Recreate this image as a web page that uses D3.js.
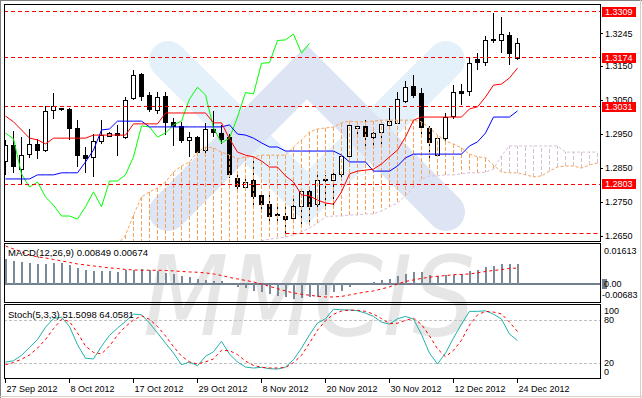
<!DOCTYPE html>
<html>
<head>
<meta charset="utf-8">
<script src="https://cdn.jsdelivr.net/npm/d3@7"></script>
<style>
body { margin: 0; background: #fff; }
svg { display: block; font-family: "Liberation Sans", Arial, sans-serif; font-size: 9px; }
</style>
</head>
<body>
<svg width="642" height="398"></svg>
<script>

// ---- data ----

var dateLabels = ['27 Sep 2012', '8 Oct 2012', '17 Oct 2012', '29 Oct 2012', '8 Nov 2012',
	'20 Nov 2012', '30 Nov 2012', '12 Dec 2012', '24 Dec 2012'];
var dateIndex = [0, 8, 16, 24, 32, 40, 48, 56, 64];

var open = [1.2868, 1.2915, 1.2847, 1.2888, 1.2918, 1.2900, 1.3018, 1.3024, 1.3021, 1.2965,
	1.2886, 1.2880, 1.2928, 1.2944, 1.2952, 1.2941, 1.3053, 1.3124, 1.3062, 1.3019,
	1.3059, 1.2983, 1.2971, 1.2933, 1.2941, 1.2900, 1.2962, 1.2953, 1.2941, 1.2818,
	1.2794, 1.2812, 1.2768, 1.2744, 1.2712, 1.2709, 1.2700, 1.2736, 1.2780, 1.2741,
	1.2815, 1.2813, 1.2830, 1.2883, 1.2965, 1.2971, 1.2941, 1.2953, 1.2977, 1.2983,
	1.3047, 1.3091, 1.3068, 1.2965, 1.2888, 1.2937, 1.3001, 1.3074, 1.3075, 1.3168,
	1.3160, 1.3225, 1.3225, 1.3241, 1.3173];
var high = [1.2933, 1.2959, 1.2941, 1.2965, 1.2936, 1.3033, 1.3071, 1.3027, 1.3027, 1.2991,
	1.2912, 1.2950, 1.2991, 1.2956, 1.2977, 1.3059, 1.3138, 1.3130, 1.3074, 1.3074,
	1.3074, 1.2997, 1.2986, 1.2957, 1.2944, 1.2983, 1.3018, 1.2977, 1.2950, 1.2830,
	1.2824, 1.2874, 1.2780, 1.2771, 1.2738, 1.2736, 1.2771, 1.2791, 1.2791, 1.2830,
	1.2830, 1.2844, 1.2894, 1.2988, 1.2983, 1.2991, 1.2956, 1.2991, 1.3027, 1.3074,
	1.3106, 1.3124, 1.3086, 1.2974, 1.2944, 1.3012, 1.3094, 1.3097, 1.3174, 1.3188,
	1.3238, 1.3307, 1.3293, 1.3250, 1.3233];
var low = [1.2830, 1.2836, 1.2800, 1.2880, 1.2877, 1.2897, 1.2994, 1.3018, 1.2933, 1.2853,
	1.2836, 1.2824, 1.2921, 1.2941, 1.2886, 1.2936, 1.3050, 1.3047, 1.3015, 1.3009,
	1.2947, 1.2915, 1.2924, 1.2883, 1.2888, 1.2888, 1.2941, 1.2921, 1.2821, 1.2786,
	1.2791, 1.2736, 1.2718, 1.2691, 1.2691, 1.2659, 1.2688, 1.2686, 1.2686, 1.2727,
	1.2736, 1.2736, 1.2824, 1.2880, 1.2938, 1.2912, 1.2912, 1.2912, 1.2974, 1.2980,
	1.3041, 1.3056, 1.2950, 1.2874, 1.2883, 1.2924, 1.2994, 1.3036, 1.3062, 1.3138,
	1.3150, 1.3219, 1.3188, 1.3153, 1.3168];
var close = [1.2915, 1.2853, 1.2888, 1.2918, 1.2900, 1.3015, 1.3030, 1.3021, 1.2965, 1.2886,
	1.2878, 1.2927, 1.2947, 1.2952, 1.2945, 1.3050, 1.3121, 1.3059, 1.3021, 1.3058,
	1.2983, 1.2971, 1.2930, 1.2941, 1.2897, 1.2962, 1.2953, 1.2936, 1.2833, 1.2794,
	1.2809, 1.2765, 1.2741, 1.2709, 1.2709, 1.2700, 1.2736, 1.2780, 1.2736, 1.2812,
	1.2812, 1.2830, 1.2883, 1.2974, 1.2971, 1.2941, 1.2953, 1.2977, 1.2988, 1.3053,
	1.3088, 1.3065, 1.2968, 1.2924, 1.2938, 1.3000, 1.3072, 1.3068, 1.3158, 1.3160,
	1.3225, 1.3227, 1.3244, 1.3188, 1.3217];

// Ichimoku
var tenkan = [1.3003, 1.2986, 1.2962, 1.2938, 1.2933, 1.2921, 1.2938, 1.2938, 1.2938, 1.2938,
	1.2938, 1.2947, 1.2947, 1.2947, 1.2947, 1.2947, 1.2980, 1.2980, 1.2980, 1.2980,
	1.3012, 1.3012, 1.3012, 1.3012, 1.3012, 1.3012, 1.2983, 1.2983, 1.2936, 1.2897,
	1.2888, 1.2883, 1.2871, 1.2853, 1.2853, 1.2827, 1.2809, 1.2771, 1.2768, 1.2756,
	1.2747, 1.2744, 1.2780, 1.2833, 1.2841, 1.2844, 1.2847, 1.2862, 1.2883, 1.2903,
	1.2941, 1.2991, 1.3000, 1.3000, 1.3000, 1.3000, 1.3000, 1.3000, 1.3024, 1.3030,
	1.3059, 1.3094, 1.3097, 1.3115, 1.3144];
var kijun = [1.2818, 1.2818, 1.2818, 1.2818, 1.2830, 1.2830, 1.2830, 1.2836, 1.2836, 1.2836,
	1.2868, 1.2903, 1.2962, 1.2965, 1.2988, 1.2988, 1.2988, 1.2988, 1.2971, 1.2971,
	1.2971, 1.2971, 1.2971, 1.2971, 1.2971, 1.2971, 1.2971, 1.2971, 1.2977, 1.2950,
	1.2947, 1.2938, 1.2924, 1.2912, 1.2912, 1.2900, 1.2900, 1.2900, 1.2900, 1.2900,
	1.2900, 1.2900, 1.2888, 1.2868, 1.2868, 1.2868, 1.2841, 1.2841, 1.2841, 1.2856,
	1.2880, 1.2891, 1.2891, 1.2891, 1.2891, 1.2891, 1.2891, 1.2891, 1.2915, 1.2927,
	1.2953, 1.3000, 1.3000, 1.3000, 1.3018];
var chikou = [1.2953, 1.2936, 1.2833, 1.2794, 1.2809, 1.2765, 1.2741, 1.2709, 1.2709, 1.2700,
	1.2736, 1.2780, 1.2736, 1.2812, 1.2812, 1.2830, 1.2883, 1.2974, 1.2971, 1.2941,
	1.2953, 1.2977, 1.2988, 1.3053, 1.3088, 1.3065, 1.2968, 1.2924, 1.2938, 1.3000,
	1.3072, 1.3068, 1.3158, 1.3160, 1.3225, 1.3227, 1.3244, 1.3188, 1.3217];
var cloudStart = 14;
var spanA = [1.2624, 1.2653, 1.2712, 1.2765, 1.2780, 1.2791, 1.2809, 1.2838, 1.2856, 1.2868,
	1.2897, 1.2912, 1.2909, 1.2897, 1.2888, 1.2877, 1.2883, 1.2883, 1.2888, 1.2888,
	1.2888, 1.2888, 1.2912, 1.2933, 1.2956, 1.2965, 1.2968, 1.2971, 1.2983, 1.2988,
	1.2986, 1.2986, 1.2988, 1.2991, 1.2991, 1.2991, 1.2991, 1.2991, 1.2986, 1.2968,
	1.2947, 1.2930, 1.2921, 1.2909, 1.2891, 1.2883, 1.2880, 1.2859, 1.2838, 1.2836,
	1.2836, 1.2830, 1.2824, 1.2827, 1.2841, 1.2853, 1.2856, 1.2856, 1.2850, 1.2859, 1.2865];
var spanB = [1.2600, 1.2600, 1.2600, 1.2600, 1.2600, 1.2600, 1.2600, 1.2600, 1.2600, 1.2600,
	1.2600, 1.2600, 1.2600, 1.2600, 1.2600, 1.2600, 1.2600, 1.2600, 1.2636, 1.2641,
	1.2644, 1.2647, 1.2653, 1.2662, 1.2674, 1.2688, 1.2706, 1.2709, 1.2709, 1.2712,
	1.2712, 1.2715, 1.2715, 1.2724, 1.2736, 1.2747, 1.2768, 1.2794, 1.2818, 1.2827,
	1.2827, 1.2830, 1.2830, 1.2833, 1.2836, 1.2836, 1.2838, 1.2847, 1.2886, 1.2915,
	1.2915, 1.2915, 1.2915, 1.2915, 1.2915, 1.2915, 1.2897, 1.2897, 1.2897, 1.2897, 1.2897];

var levels = [1.3309, 1.3174, 1.3031, 1.2803];
var supportStart = 35, supportPrice = 1.2657;
var priceTicks = [1.3245, 1.3150, 1.3050, 1.2950, 1.2850, 1.2750, 1.2650];

// MACD(12,26,9)
var macdHist = [0.01075, 0.00990, 0.00922, 0.00880, 0.00850, 0.00850, 0.00892, 0.00880, 0.00820, 0.00680,
	0.00595, 0.00540, 0.00565, 0.00540, 0.00523, 0.00595, 0.00582, 0.00638, 0.00608, 0.00540,
	0.00480, 0.00425, 0.00353, 0.00285, 0.00225, 0.00170, 0.00140, 0.00140, 0.00043, -0.00140,
	-0.00170, -0.00285, -0.00353, -0.00425, -0.00497, -0.00540, -0.00625, -0.00595, -0.00565, -0.00540,
	-0.00480, -0.00340, -0.00285, -0.00115, -0.00043, 0.00043, 0.00085, 0.00170, 0.00213, 0.00353,
	0.00425, 0.00510, 0.00489, 0.00370, 0.00327, 0.00370, 0.00395, 0.00425, 0.00540, 0.00582,
	0.00710, 0.00765, 0.00850, 0.00850, 0.00849];
var macdSignal = [0.01613, 0.01488, 0.01360, 0.01233, 0.01148, 0.01105, 0.01041, 0.00978, 0.00914, 0.00850,
	0.00808, 0.00765, 0.00723, 0.00680, 0.00659, 0.00616, 0.00595, 0.00582, 0.00582, 0.00582,
	0.00574, 0.00553, 0.00531, 0.00510, 0.00497, 0.00468, 0.00425, 0.00361, 0.00276, 0.00213,
	0.00149, 0.00085, 0.00000, -0.00106, -0.00200, -0.00298, -0.00383, -0.00438, -0.00480, -0.00523,
	-0.00553, -0.00553, -0.00531, -0.00468, -0.00404, -0.00340, -0.00298, -0.00213, -0.00128, 0.00000,
	0.00106, 0.00170, 0.00234, 0.00285, 0.00327, 0.00353, 0.00395, 0.00404, 0.00425, 0.00468,
	0.00531, 0.00574, 0.00608, 0.00659, 0.00674];
var macdMax = 0.01613, macdMin = -0.00683;

// Stochastic(5,3,3)
var stochMain = [21.7, 23.5, 31, 42, 53, 70, 82, 84, 71, 45.7,
	27, 26, 43.5, 58.7, 68.8, 78, 88.2, 87.3, 75.8, 62,
	48, 34.2, 18, 21.7, 16.6, 29.6, 36, 50.4, 32.8, 21.7,
	14.8, 13.4, 14.4, 12.5, 12, 14.8, 25, 41, 59.6, 75.8,
	81.7, 95, 94.2, 94, 92.8, 89.6, 85, 77.1, 74.4, 81.7,
	85, 81.3, 60, 34, 19, 34, 55, 74.4, 92, 92,
	92.8, 88.2, 81.3, 60.5, 51.5098];
var stochSignal = [18, 21, 25.6, 31.5, 41, 53, 68, 81, 78, 62,
	44, 35, 33, 44, 59, 71, 80, 86, 81, 71,
	58, 43, 30, 22, 19, 22, 26, 38, 37.5, 32,
	23, 17, 14.5, 13.5, 13.4, 14, 21, 31, 48, 66,
	79, 88, 92.5, 93.8, 93.5, 92, 88.2, 82, 75, 75.5,
	79.5, 82.5, 74, 58, 40, 29, 38, 52, 73, 87,
	92, 91, 88.5, 77, 64.0581];
var stochLevels = [80, 20];
var stochTicks = [100, 80, 20, 0];


var svg = d3.select('svg');

// panel geometry
var L = 4, R = 600;
var mainTop = 4, mainBot = 241, macdTop = 243, macdBot = 302, stTop = 304, stBot = 378;

var x = d3.scaleLinear().domain([0, 64]).range([5.5, 517.5]);
var y = d3.scaleLinear().domain([1.26355, 1.33325]).range([mainBot, mainTop]);
var yM = d3.scaleLinear().domain([macdMin, macdMax]).range([300, 246]);
var yS = d3.scaleLinear().domain([0, 100]).range([377.7, 305.6]);

function crisp(v) { return Math.round(v - 0.5) + 0.5; }

svg.append('rect').attr('width', 642).attr('height', 398).attr('fill', '#fff');

/*
	watermark
*/
var wm = svg.append('g');
wm.append('path')
	.attr('d', d3.line()([[168, 60], [307, 198], [446, 60]]))
	.attr('fill', 'none').attr('stroke', '#e4f1fa').attr('stroke-width', 38)
	.attr('stroke-linecap', 'round');
wm.append('path')
	.attr('d', d3.line()([[168, 212], [307, 72], [446, 212]]))
	.attr('fill', 'none').attr('stroke', '#dde4f3').attr('stroke-width', 38)
	.attr('stroke-linecap', 'round');
wm.append('text')
	.attr('x', 143).attr('y', 335)
	.attr('textLength', 332).attr('lengthAdjust', 'spacingAndGlyphs')
	.style('font-family', '"DejaVu Sans", sans-serif')
	.style('font-style', 'italic')
	.style('font-size', '110px')
	.attr('fill', '#e6e6e6')
	.text('MMCIS');

// clips
var defs = svg.append('defs');
defs.append('clipPath').attr('id', 'clipMain').append('rect')
	.attr('x', L).attr('y', mainTop).attr('width', R - L).attr('height', mainBot - mainTop);

var main = svg.append('g').attr('clip-path', 'url(#clipMain)');

/*
	candles
*/
var idx = d3.range(close.length);
var candles = main.append('g');
candles.selectAll('line').data(idx).join('line')
	.attr('x1', function (i) { return x(i); })
	.attr('x2', function (i) { return x(i); })
	.attr('y1', function (i) { return Math.round(y(high[i])); })
	.attr('y2', function (i) { return Math.round(y(low[i])); })
	.attr('stroke', '#000');
candles.selectAll('rect').data(idx).join('rect')
	.attr('x', function (i) { return x(i) - 2; })
	.attr('y', function (i) { return crisp(y(Math.max(open[i], close[i]))); })
	.attr('width', 4)
	.attr('height', function (i) {
		return Math.max(Math.round(Math.abs(y(open[i]) - y(close[i]))), 0.5);
	})
	.attr('fill', function (i) { return close[i] >= open[i] ? '#fff' : '#000'; })
	.attr('stroke', '#000');

/*
	Ichimoku cloud: one dashed vertical per bar, coloured by which span is on top
*/
var cIdx = d3.range(cloudStart, cloudStart + spanA.length);
var cloud = main.append('g');
var hatch = function (up) {
	var p = d3.path();
	cIdx.forEach(function (i) {
		var a = spanA[i - cloudStart], b = spanB[i - cloudStart];
		if ((a >= b) === up) {
			p.moveTo(x(i), Math.round(y(a)));
			p.lineTo(x(i), Math.round(y(b)));
		}
	});
	return p.toString();
};
cloud.append('path').attr('d', hatch(true))
	.style('fill', 'none').style('stroke', '#f4a460').style('stroke-dasharray', '4,2');
cloud.append('path').attr('d', hatch(false))
	.style('fill', 'none').style('stroke', '#d8bfd8').style('stroke-dasharray', '4,2');

var spanLine = function (arr) {
	return d3.line().x(function (d, k) { return x(k + cloudStart); }).y(function (d) { return y(d); })(arr);
};
cloud.append('path').attr('d', spanLine(spanB))
	.style('fill', 'none').style('stroke', '#d8bfd8').style('stroke-dasharray', '3,2');
cloud.append('path').attr('d', spanLine(spanA))
	.style('fill', 'none').style('stroke', '#f4a460').style('stroke-dasharray', '3,2');

var priceLine = d3.line().x(function (d, i) { return x(i); }).y(function (d) { return y(d); });
main.append('path').attr('d', priceLine(chikou)).attr('fill', 'none').attr('stroke', '#00ff00');
main.append('path').attr('d', priceLine(kijun)).attr('fill', 'none').attr('stroke', '#0000ff');
main.append('path').attr('d', priceLine(tenkan)).attr('fill', 'none').attr('stroke', '#ff0000');

/*
	levels
*/
main.selectAll('line.level').data(levels).join('line').classed('level', true)
	.attr('x1', L).attr('x2', R)
	.attr('y1', function (d) { return crisp(y(d)); })
	.attr('y2', function (d) { return crisp(y(d)); })
	.attr('stroke', '#ff0000').attr('stroke-dasharray', '4,3');
main.append('line')
	.attr('x1', x(supportStart)).attr('x2', R)
	.attr('y1', crisp(y(supportPrice))).attr('y2', crisp(y(supportPrice)))
	.attr('stroke', '#ff0000').attr('stroke-dasharray', '4,3');

// price axis
var axisG = svg.append('g');
axisG.selectAll('line.tk').data(priceTicks).join('line').classed('tk', true)
	.attr('x1', R).attr('x2', R + 3)
	.attr('y1', function (d) { return crisp(y(d)); })
	.attr('y2', function (d) { return crisp(y(d)); })
	.attr('stroke', '#000');
axisG.selectAll('text.tk').data(priceTicks).join('text').classed('tk', true)
	.attr('x', 605).attr('y', function (d) { return y(d); }).attr('dy', '0.35em')
	.text(function (d) { return d.toFixed(4); });
axisG.selectAll('rect.lv').data(levels).join('rect').classed('lv', true)
	.attr('x', 602).attr('y', function (d) { return Math.round(y(d)) - 5; })
	.attr('width', 34).attr('height', 10).attr('fill', '#ff0000');
axisG.selectAll('text.lv').data(levels).join('text').classed('lv', true)
	.attr('x', 605).attr('y', function (d) { return y(d); }).attr('dy', '0.35em')
	.attr('fill', '#fff')
	.text(function (d) { return d.toFixed(4); });

/*
	MACD
*/
var macd = svg.append('g');
macd.append('line').attr('x1', L).attr('x2', R).attr('y1', yM(0)).attr('y2', yM(0))
	.attr('stroke', '#708090').attr('stroke-width', 2);
macd.selectAll('rect').data(macdHist).join('rect')
	.attr('x', function (d, i) { return x(i) - 0.5; })
	.attr('width', 2)
	.attr('y', function (d) { return Math.round(Math.min(yM(d), yM(0))); })
	.attr('height', function (d) { return Math.round(Math.abs(yM(d) - yM(0))); })
	.attr('fill', '#7b8a99');
macd.append('path')
	.attr('d', d3.line().x(function (d, i) { return x(i); }).y(function (d) { return yM(d); })(macdSignal))
	.attr('fill', 'none').attr('stroke', '#ff0000').attr('stroke-dasharray', '3,3');
macd.append('text').attr('x', 8).attr('y', 256).style('font-size', '9.5px')
	.text('MACD(12,26,9) ' + macdHist[64].toFixed(5) + ' ' + macdSignal[64].toFixed(5));
macd.append('rect').attr('x', 602).attr('y', Math.round(yM(0)) - 5).attr('width', 5).attr('height', 10)
	.attr('fill', '#708090');
macd.append('text').attr('x', 604).attr('y', yM(macdMax) + 5).attr('dy', '0.35em').text(macdMax.toFixed(5));
macd.append('text').attr('x', 604).attr('y', yM(0)).attr('dy', '0.35em').text('0.00');
macd.append('text').attr('x', 602).attr('y', yM(macdMin) - 5).attr('dy', '0.35em').text(macdMin.toFixed(5));

/*
	Stochastic
*/
var st = svg.append('g');
st.selectAll('line').data(stochLevels).join('line')
	.attr('x1', L).attr('x2', R)
	.attr('y1', function (d) { return crisp(yS(d)); })
	.attr('y2', function (d) { return crisp(yS(d)); })
	.attr('stroke', '#c0c0c0').attr('stroke-dasharray', '3,2');
var stLine = d3.line().x(function (d, i) { return x(i); }).y(function (d) { return yS(d); });
st.append('path').attr('d', stLine(stochMain)).attr('fill', 'none').attr('stroke', '#20b2aa');
st.append('path').attr('d', stLine(stochSignal)).attr('fill', 'none')
	.attr('stroke', '#ff0000').attr('stroke-dasharray', '3,3');
st.append('text').attr('x', 8).attr('y', 318).style('font-size', '9.5px')
	.text('Stoch(5,3,3) ' + stochMain[64].toFixed(4) + ' ' + stochSignal[64].toFixed(4));
st.selectAll('text.tk').data(stochTicks).join('text').classed('tk', true)
	.attr('x', 604)
	.attr('y', function (d) { return yS(d) + (d === 100 ? 5 : d === 0 ? -5.5 : 0); })
	.attr('dy', '0.35em')
	.text(function (d) { return d; });

/*
	panel frames
*/
var frames = [[mainTop, mainBot], [macdTop, macdBot], [stTop, stBot]];
svg.selectAll('rect.frame').data(frames).join('rect').classed('frame', true)
	.attr('x', L + 0.5).attr('y', function (d) { return d[0] + 0.5; })
	.attr('width', R - L).attr('height', function (d) { return d[1] - d[0]; })
	.attr('fill', 'none').attr('stroke', '#000');

// date axis
var dates = svg.append('g');
dates.selectAll('line').data(dateIndex).join('line')
	.attr('x1', function (i) { return x(i); }).attr('x2', function (i) { return x(i); })
	.attr('y1', stBot).attr('y2', stBot + 5)
	.attr('stroke', '#000');
dates.selectAll('text').data(dateIndex).join('text')
	.attr('x', function (i) { return x(i) + 1; })
	.attr('y', 392)
	.text(function (i, k) { return dateLabels[k]; });

// window edge
svg.append('line').attr('x1', 0).attr('x2', 642).attr('y1', 0.5).attr('y2', 0.5).attr('stroke', '#808080');
svg.append('line').attr('x1', 0.5).attr('x2', 0.5).attr('y1', 0).attr('y2', 398).attr('stroke', '#808080');
svg.append('line').attr('x1', 0).attr('x2', 642).attr('y1', 396.5).attr('y2', 396.5).attr('stroke', '#d4d0c8');
svg.append('line').attr('x1', 640.5).attr('x2', 640.5).attr('y1', 0).attr('y2', 398).attr('stroke', '#d4d0c8');

</script>
</body>
</html>
